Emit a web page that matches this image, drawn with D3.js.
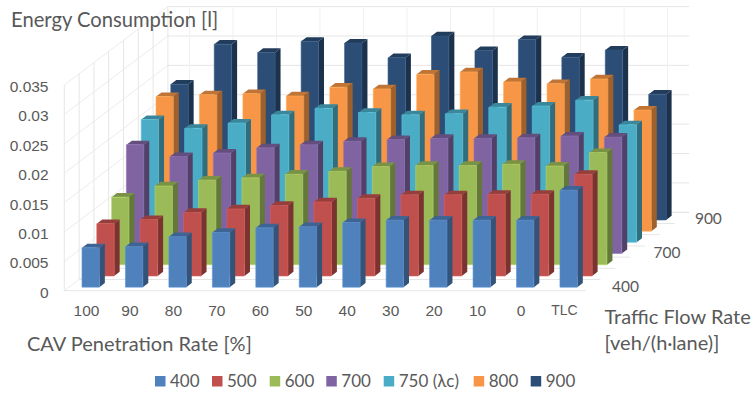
<!DOCTYPE html>
<html>
<head>
<meta charset="utf-8">
<script src="https://cdn.jsdelivr.net/npm/d3@7"></script>
<style>
    html, body { margin: 0; padding: 0; background: #fff; }
    svg { display: block; font-family: Lato, "Open Sans", sans-serif; }
    text { fill: #595959; }
</style>
</head>
<body>
<svg id="chart" width="756" height="394"></svg>
<script>
// Values, front row to back row
const categories = ["100", "90", "80", "70", "60", "50", "40", "30", "20", "10", "0", "TLC"];
const flowRates = ["400", "500", "600", "700", "750 (λc)", "800", "900"];
const flowTicks = ["400", "700", "900"];
const valueTicks = [0, 0.005, 0.01, 0.015, 0.02, 0.025, 0.03, 0.035];

const flow400 = [.0067, .0069, .0086, .0093, .0101, .0103, .0110, .0114, .0114, .0114, .0114, .0165];
const flow500 = [.0089, .0096, .0108, .0114, .0120, .0126, .0132, .0138, .0138, .0139, .0139, .0173];
const flow600 = [.0115, .0134, .0144, .0148, .0154, .0159, .0167, .0169, .0169, .0171, .0168, .0191];
const flow700 = [.0185, .0165, .0171, .0180, .0185, .0191, .0194, .0196, .0196, .0197, .0200, .0198];
const flow750 = [.0209, .0194, .0203, .0217, .0228, .0221, .0217, .0219, .0230, .0232, .0242, .0200];
const flow800 = [.0229, .0232, .0234, .0230, .0245, .0242, .0267, .0271, .0254, .0251, .0259, .0206];
const flow900 = [.0231, .0299, .0285, .0304, .0301, .0276, .0313, .0288, .0307, .0277, .0289, .0214];
const seriesValues = [flow400, flow500, flow600, flow700, flow750, flow800, flow900];

const colors = ["#4f81bd", "#c0504d", "#9bbb59", "#8064a2", "#4bacc6", "#f79646", "#2c4d75"];

const svg = d3.select("#chart");

// Front edge of the floor and how far the oblique projection shifts per row
const originX = 64.3, originY = 290.7, floorRight = 585.7;
const rowDx = 14.8, rowDy = 11.2;

const x = d3.scaleBand().domain(categories).range([originX, floorRight]);
const depth = d3.scaleBand().domain(flowRates).range([0, flowRates.length]);
const y = d3.scaleLinear().domain([0, 0.035]).range([originY, 85]);

const project = (px, d, value) => [px + d * rowDx, y(value) - d * rowDy];
const line = d3.line();

const walls = svg.append("g").attr("fill", "none").attr("stroke", "#e6e6e6").attr("stroke-width", 1);
const backDepth = flowRates.length;

// Value gridlines: left wall then back wall
valueTicks.forEach(v => {
    walls.append("path").attr("d", line([project(originX, 0, v), project(originX, backDepth, v)]))
        .attr("stroke", "#ececec");
    walls.append("path").attr("d", line([project(originX, backDepth, v), project(floorRight, backDepth, v)]));
});

// Row lines on the floor and up the left wall
d3.range(backDepth + 1).forEach(i => {
    walls.append("path").attr("d", line([project(originX, i, 0), project(floorRight, i, 0)]));
    walls.append("path").attr("d", line([project(originX, i, 0), project(originX, i, 0.035)]));
});

// Category lines on the back wall
categories.forEach(c => {
    const cx = x(c) + x.bandwidth() / 2;
    walls.append("path").attr("d", line([project(cx, backDepth, 0), project(cx, backDepth, 0.035)]))
        .attr("stroke", "#f0f0f0");
});

// Bars, back row first so the front rows cover them
const barWidth = x.bandwidth() * 0.4;
const barDepth = 0.37;
const bars = svg.append("g");

d3.range(flowRates.length - 1, -1, -1).forEach(r => {
    const base = d3.color(colors[r]);
    const dStart = depth(flowRates[r]) + (depth.bandwidth() - barDepth) / 2;
    const dEnd = dStart + barDepth;

    categories.forEach((c, i) => {
        const v = seriesValues[r][i];
        const xL = x(c) + (x.bandwidth() - barWidth) / 2;
        const xR = xL + barWidth;

        const front = [project(xL, dStart, 0), project(xR, dStart, 0), project(xR, dStart, v), project(xL, dStart, v)];
        const side = [project(xR, dStart, 0), project(xR, dEnd, 0), project(xR, dEnd, v), project(xR, dStart, v)];
        const top = [project(xL, dStart, v), project(xR, dStart, v), project(xR, dEnd, v), project(xL, dEnd, v)];

        const g = bars.append("g");
        g.append("path").attr("d", line(side) + "Z").attr("fill", base.darker(1.25));
        g.append("path").attr("d", line(top) + "Z").attr("fill", base.darker(0.7));
        g.append("path").attr("d", line(front) + "Z").attr("fill", base)
            .attr("stroke", base.brighter(0.4)).attr("stroke-width", 0.6);
    });
});

// Value axis
const yAxis = d3.axisLeft(y).tickValues(valueTicks).tickFormat(d => String(d)).tickSize(0).tickPadding(0);
svg.append("g").attr("transform", "translate(48.5,1.5)").call(yAxis)
    .call(g => g.select(".domain").remove())
    .call(g => g.selectAll("text").style("font-size", "15.5px").attr("fill", "#595959"));

// Category axis
const xAxis = d3.axisBottom(x).tickSize(0).tickPadding(0);
svg.append("g").attr("transform", "translate(0.5,305)").call(xAxis)
    .call(g => g.select(".domain").remove())
    .call(g => g.selectAll("text").style("font-size", "15.5px"))
    .call(g => g.selectAll(".tick").filter(d => d === "TLC").select("text").style("font-size", "14px"));

// Flow rate tick labels along the right floor edge
svg.append("g").selectAll("text")
    .data(flowTicks)
    .join("text")
    .attr("x", d => floorRight + (depth(d) + 0.5) * (rowDx - 1) + 19.5)
    .attr("y", d => originY - (depth(d) + 0.5) * rowDy + 6.5)
    .style("font-size", "15.5px")
    .text(d => d);

// Titles
svg.append("text").attr("x", 11).attr("y", 27).style("font-size", "20.2px").text("Energy Consumption [l]");
svg.append("text").attr("x", 27).attr("y", 351).style("font-size", "20px").text("CAV Penetration Rate [%]");
svg.append("text").attr("x", 604.5).attr("y", 324).style("font-size", "20px").text("Traffic Flow Rate");
svg.append("text").attr("x", 604.5).attr("y", 350).style("font-size", "20px").text("[veh/(h·lane)]");

// Legend
const legendX = [155, 212, 269.7, 326.3, 383.7, 473.7, 530.7];
const legend = svg.append("g").selectAll("g")
    .data(flowRates)
    .join("g")
    .attr("transform", (d, i) => `translate(${legendX[i]},376)`);

legend.append("rect")
    .attr("width", 10.5)
    .attr("height", 10.5)
    .attr("fill", (d, i) => colors[i]);

legend.append("text")
    .attr("x", 15)
    .attr("y", 11)
    .style("font-size", "17px")
    .text(d => d);
</script>
</body>
</html>
